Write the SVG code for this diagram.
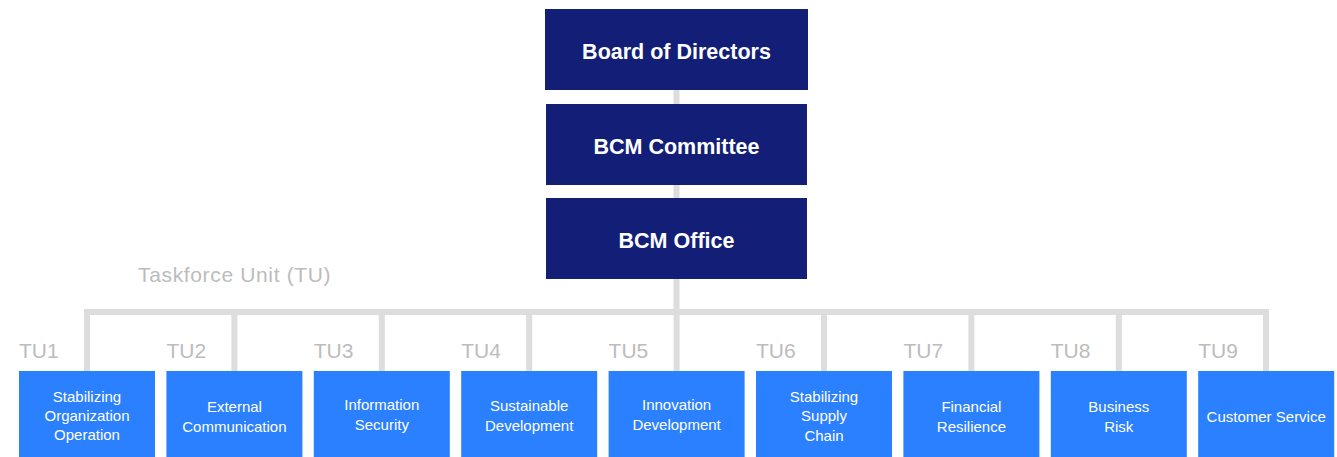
<svg xmlns="http://www.w3.org/2000/svg" width="1337" height="457" viewBox="0 0 1337 457">
  <style>
    .conn { fill: none; stroke: #dddddd; stroke-width: 6; stroke-linejoin: miter; }
    .top rect { fill: #131f77; }
    .top text { fill: #ffffff; font-family: "Liberation Sans", Arial, sans-serif; font-weight: bold; font-size: 21.5px; text-anchor: middle; }
    .tu rect { fill: #2a80ff; }
    .tu text.name { fill: #ffffff; font-family: "Liberation Sans", Arial, sans-serif; font-size: 15px; text-anchor: middle; }
    .tag { fill: #bcbcbc; font-family: "Liberation Sans", Arial, sans-serif; font-size: 21px; }
  </style>

  <!-- connectors -->
  <g id="connectors">
    <path class="conn" d="M676.5 90 V312"/>
    <path class="conn" d="M87 371 V312 H1266 V371"/>
    <path class="conn" d="M234.4 312 V371 M381.8 312 V371 M529.2 312 V371 M676.6 312 V371 M824 312 V371 M971.4 312 V371 M1118.8 312 V371"/>
  </g>

  <!-- management levels -->
  <g id="board" class="top">
    <rect x="545" y="9" width="263" height="81"/>
    <text x="676.5" y="59">Board of Directors</text>
  </g>
  <g id="committee" class="top">
    <rect x="546" y="104" width="261" height="81"/>
    <text x="676.5" y="154">BCM Committee</text>
  </g>
  <g id="office" class="top">
    <rect x="546" y="198" width="261" height="81"/>
    <text x="676.5" y="248">BCM Office</text>
  </g>

  <text id="tu-caption" class="tag" x="138" y="282" font-size="22" letter-spacing="0.65">Taskforce Unit (TU)</text>

  <!-- taskforce units -->
  <g id="tu1" class="tu">
    <text class="tag" x="19" y="358">TU1</text>
    <rect x="19" y="371" width="136" height="86"/>
    <text class="name" x="87" y="402">Stabilizing</text>
    <text class="name" x="87" y="421">Organization</text>
    <text class="name" x="87" y="440">Operation</text>
  </g>
  <g id="tu2" class="tu">
    <text class="tag" x="166.4" y="358">TU2</text>
    <rect x="166.4" y="371" width="136" height="86"/>
    <text class="name" x="234.4" y="412">External</text>
    <text class="name" x="234.4" y="432">Communication</text>
  </g>
  <g id="tu3" class="tu">
    <text class="tag" x="313.8" y="358">TU3</text>
    <rect x="313.8" y="371" width="136" height="86"/>
    <text class="name" x="381.8" y="410">Information</text>
    <text class="name" x="381.8" y="430">Security</text>
  </g>
  <g id="tu4" class="tu">
    <text class="tag" x="461.2" y="358">TU4</text>
    <rect x="461.2" y="371" width="136" height="86"/>
    <text class="name" x="529.2" y="411">Sustainable</text>
    <text class="name" x="529.2" y="431">Development</text>
  </g>
  <g id="tu5" class="tu">
    <text class="tag" x="608.6" y="358">TU5</text>
    <rect x="608.6" y="371" width="136" height="86"/>
    <text class="name" x="676.6" y="410">Innovation</text>
    <text class="name" x="676.6" y="430">Development</text>
  </g>
  <g id="tu6" class="tu">
    <text class="tag" x="756" y="358">TU6</text>
    <rect x="756" y="371" width="136" height="86"/>
    <text class="name" x="824" y="402">Stabilizing</text>
    <text class="name" x="824" y="421">Supply</text>
    <text class="name" x="824" y="441">Chain</text>
  </g>
  <g id="tu7" class="tu">
    <text class="tag" x="903.4" y="358">TU7</text>
    <rect x="903.4" y="371" width="136" height="86"/>
    <text class="name" x="971.4" y="412">Financial</text>
    <text class="name" x="971.4" y="432">Resilience</text>
  </g>
  <g id="tu8" class="tu">
    <text class="tag" x="1050.8" y="358">TU8</text>
    <rect x="1050.8" y="371" width="136" height="86"/>
    <text class="name" x="1118.8" y="412">Business</text>
    <text class="name" x="1118.8" y="432">Risk</text>
  </g>
  <g id="tu9" class="tu">
    <text class="tag" x="1198.2" y="358">TU9</text>
    <rect x="1198.2" y="371" width="136" height="86"/>
    <text class="name" x="1266.2" y="422">Customer Service</text>
  </g>
</svg>
